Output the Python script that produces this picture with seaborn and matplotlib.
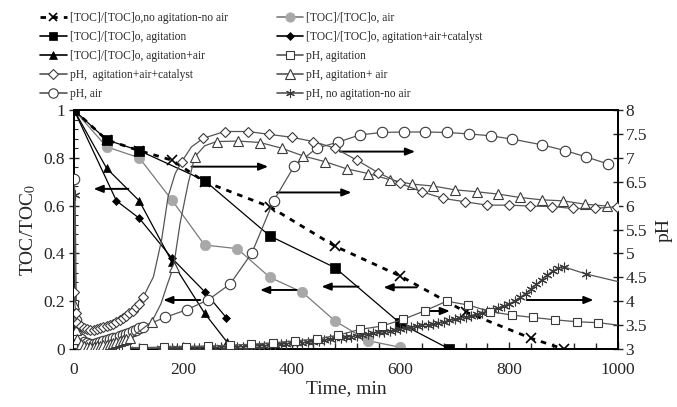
import matplotlib
matplotlib.use("Agg")
import matplotlib.pyplot as plt
from matplotlib.lines import Line2D
from matplotlib.ticker import MultipleLocator, FuncFormatter
import numpy as np
import pandas as pd
import seaborn as sns

# ---------------- TOC/TOC0 series (left axis) ----------------
toc_noag_t = [0, 60, 120, 180, 240, 360, 480, 600, 720, 840, 900]
toc_noag_v = [1, 0.875, 0.83, 0.79, 0.70, 0.595, 0.43, 0.305, 0.155, 0.045, 0.0]

toc_ag_t = [0, 60, 120, 240, 360, 480, 600, 690]
toc_ag_v = [1, 0.875, 0.83, 0.705, 0.473, 0.34, 0.107, 0.0]

toc_air_t = [0, 60, 120, 180, 240, 300, 360, 420, 480, 540, 600]
toc_air_v = [1, 0.846, 0.80, 0.623, 0.435, 0.42, 0.30, 0.237, 0.117, 0.035, 0.007]

toc_cat_t = [0, 78, 120, 180, 240, 280]
toc_cat_v = [1, 0.62, 0.547, 0.38, 0.24, 0.131]

toc_agair_t = [0, 60, 120, 180, 240, 281]
toc_agair_v = [1, 0.756, 0.62, 0.365, 0.15, 0.03]

# ---------------- pH series (right axis) ----------------
# points drawn with a marker
ph_cat_t = [0, 3, 6, 12, 18, 24, 30, 36, 42, 48, 54, 60, 66, 72, 78, 84, 90, 96, 102, 108, 114, 120, 127,
            198, 238, 277, 320, 359, 400, 440, 480, 520, 559, 599, 639, 679, 719, 759, 800, 838, 878, 918, 958, 998]
ph_cat_v = [4.2, 3.75, 3.55, 3.48, 3.44, 3.41, 3.40, 3.40, 3.41, 3.43, 3.45, 3.48, 3.50, 3.53, 3.57, 3.61, 3.65,
            3.70, 3.75, 3.80, 3.87, 3.95, 4.08,
            6.92, 7.41, 7.55, 7.55, 7.49, 7.43, 7.34, 7.20, 6.95, 6.69, 6.47, 6.29, 6.15, 6.08, 6.01, 6.01, 5.99,
            5.98, 5.94, 5.94, 5.98]
# readings of the curve between markers
ph_cat_curve_t = [146, 161, 173, 186, 216]
ph_cat_curve_v = [4.51, 5.28, 6.19, 6.67, 7.23]

ph_air_t = [0, 3, 6, 12, 18, 24, 30, 36, 42, 48, 54, 60, 66, 72, 78, 84, 90, 96, 102, 108, 114, 120, 127,
            167, 207, 247, 287, 327, 367, 405, 446, 486, 526, 566, 606, 646, 686, 726, 766, 806, 861, 903, 941, 982]
ph_air_v = [6.55, 3.6, 3.3, 3.2, 3.15, 3.12, 3.11, 3.11, 3.12, 3.14, 3.16, 3.18, 3.20, 3.22, 3.24, 3.27, 3.29,
            3.31, 3.34, 3.37, 3.40, 3.43, 3.47,
            3.66, 3.82, 4.03, 4.36, 5.01, 6.10, 6.83, 7.20, 7.33, 7.48, 7.53, 7.54, 7.54, 7.53, 7.50, 7.46, 7.39,
            7.27, 7.15, 7.02, 6.87]
ph_air_curve_t = []
ph_air_curve_v = []

ph_agair_t = [0, 3, 6, 12, 18, 24, 30, 36, 42, 48, 54, 60, 66, 72, 78, 84, 90, 96, 103,
              143, 183, 222, 262, 302, 342, 382, 421, 461, 501, 541, 581, 621, 660, 700, 740, 780, 820, 860,
              899, 939, 979]
ph_agair_v = [3.95, 3.4, 3.2, 3.1, 3.07, 3.05, 3.05, 3.05, 3.06, 3.07, 3.08, 3.09, 3.10, 3.12, 3.14, 3.16,
              3.18, 3.20, 3.22,
              3.57, 4.72, 7.02, 7.34, 7.35, 7.32, 7.20, 7.04, 6.92, 6.77, 6.67, 6.54, 6.45, 6.41, 6.33, 6.29,
              6.24, 6.17, 6.12, 6.10, 6.03, 5.99]
ph_agair_curve_t = [160, 170, 195, 210, 240]
ph_agair_curve_v = [3.95, 4.30, 5.63, 6.47, 7.25]

ph_ag_t = [0, 3, 6, 12, 18, 24, 30, 36, 42, 48, 54, 60, 66, 72, 78, 84, 90, 96, 126,
           166, 206, 246, 286, 326, 366, 406, 446, 486, 526, 566, 605, 645, 685, 725, 765, 805, 844, 885, 924, 964]
ph_ag_v = [3.95, 3.3, 3.1, 3.05, 3.03, 3.02, 3.02, 3.02, 3.02, 3.02, 3.02, 3.02, 3.02, 3.03, 3.03, 3.03, 3.03,
           3.03, 3.03,
           3.04, 3.05, 3.06, 3.08, 3.10, 3.13, 3.17, 3.21, 3.29, 3.41, 3.48, 3.62, 3.80, 4.00, 3.92, 3.78, 3.71,
           3.66, 3.61, 3.57, 3.55]
ph_ag_curve_t = [1000]
ph_ag_curve_v = [3.50]

ph_noag_t = [0, 2, 5, 10, 20, 30, 40, 50, 60, 70, 80, 90, 100,
             160, 170, 180, 190, 200, 210, 220, 230, 240, 250, 260, 270, 280, 290, 300, 310, 320, 330, 340,
             350, 360, 370, 380, 390, 400, 410, 420, 430, 440, 450, 460, 470, 480, 490, 500, 510, 520, 530,
             540, 550, 560, 570, 580, 590, 600, 610, 620, 630, 640, 650, 660, 670, 680, 690, 700, 710, 720,
             730, 740, 750, 760, 770, 780, 790, 800, 810, 820, 830, 840, 850, 860, 870, 880, 890, 900, 941]
ph_noag_v = [6.55, 6.22, 3.2, 3.02, 3.01, 3.0, 3.0, 3.0, 3.0, 3.0, 3.0, 3.0, 3.0,
             3.02, 3.02, 3.02, 3.02, 3.02, 3.02, 3.03, 3.03, 3.03, 3.03, 3.03, 3.04, 3.04, 3.04, 3.04, 3.05,
             3.05, 3.06, 3.07, 3.07, 3.08, 3.09, 3.10, 3.11, 3.12, 3.13, 3.13, 3.14, 3.15, 3.16, 3.18, 3.20,
             3.22, 3.23, 3.25, 3.26, 3.28, 3.30, 3.31, 3.33, 3.35, 3.36, 3.38, 3.40, 3.42, 3.44, 3.45, 3.48,
             3.50, 3.51, 3.53, 3.54, 3.57, 3.60, 3.62, 3.65, 3.67, 3.70, 3.73, 3.76, 3.79, 3.82, 3.86, 3.90,
             3.95, 4.00, 4.08, 4.16, 4.25, 4.35, 4.45, 4.55, 4.63, 4.69, 4.72, 4.57]
ph_noag_curve_t = [1000]
ph_noag_curve_v = [4.41]

# arrows pointing to the axis each curve belongs to (tail time, head time, level on TOC axis)
arrow_tail_t = [100, 232, 409, 523, 630, 216, 373, 489, 645, 832]
arrow_head_t = [36, 164, 342, 455, 569, 357, 510, 627, 691, 955]
arrow_level = [0.67, 0.205, 0.247, 0.261, 0.258, 0.763, 0.655, 0.826, 0.159, 0.205]

labels = {
    "toc_noag": "[TOC]/[TOC]o,no agitation-no air",
    "toc_air": "[TOC]/[TOC]o, air",
    "toc_ag": "[TOC]/[TOC]o, agitation",
    "toc_cat": "[TOC]/[TOC]o, agitation+air+catalyst",
    "toc_agair": "[TOC]/[TOC]o, agitation+air",
    "ph_ag": "pH, agitation",
    "ph_cat": "pH,  agitation+air+catalyst",
    "ph_agair": "pH, agitation+ air",
    "ph_air": "pH, air",
    "ph_noag": "pH, no agitation-no air",
}

# ---------------- style ----------------
sns.set_style("white")
plt.rcParams["font.family"] = ["Liberation Serif", "DejaVu Serif"]
plt.rcParams["mathtext.fontset"] = "stix"

fig = plt.figure(figsize=(6.77, 4.07), dpi=100)
ax = fig.add_axes([74 / 677, 1 - 349 / 407, (618 - 74) / 677, (349 - 110) / 407])
ax2 = ax.twinx()

PH_COL = "#3a3a3a"
PH_LINE = "#555555"
GRAY_MK = "#a8a8a8"
GRAY_LN = "#7a7a7a"

styles = {
    "toc_noag": dict(color="black", lw=2.0, ls=(0, (2.0, 2.2)), marker="x", ms=7, mfc="black", mec="black", mew=1.2),
    "toc_ag": dict(color="black", lw=0.9, ls="-", marker="s", ms=6.5, mfc="black", mec="black", mew=0.5),
    "toc_air": dict(color=GRAY_LN, lw=0.9, ls="-", marker="o", ms=7.5, mfc=GRAY_MK, mec=GRAY_MK, mew=0.5),
    "toc_cat": dict(color="black", lw=0.9, ls="-", marker="D", ms=4.5, mfc="black", mec="black", mew=0.5),
    "toc_agair": dict(color="black", lw=0.9, ls="-", marker="^", ms=6, mfc="black", mec="black", mew=0.5),
    "ph_ag": dict(color=PH_LINE, lw=0.9, ls="-", marker="s", ms=6, mfc="white", mec=PH_COL, mew=0.8),
    "ph_cat": dict(color=PH_LINE, lw=0.9, ls="-", marker="D", ms=5.5, mfc="white", mec=PH_COL, mew=0.8),
    "ph_agair": dict(color=PH_LINE, lw=0.9, ls="-", marker="^", ms=7.5, mfc="white", mec=PH_COL, mew=0.8),
    "ph_air": dict(color=PH_LINE, lw=0.9, ls="-", marker="o", ms=7.5, mfc="white", mec=PH_COL, mew=0.8),
    "ph_noag": dict(color=PH_LINE, lw=0.9, ls="-", marker=(6, 2, 0), ms=7, mfc=PH_COL, mec=PH_COL, mew=0.8),
}


def draw(target, key, t, v, curve_t=(), curve_v=(), z=3):
    st = styles[key]
    df = pd.DataFrame({
        "t": list(t) + list(curve_t),
        "v": list(v) + list(curve_v),
        "m": [True] * len(t) + [False] * len(curve_t),
    }).sort_values("t").reset_index(drop=True)
    idx = [int(i) for i in df.index[df["m"]]]
    sns.lineplot(data=df, x="t", y="v", ax=target, estimator=None, sort=False, legend=False,
                 color=st["color"], linewidth=st["lw"], linestyle=st["ls"],
                 marker=st["marker"], markersize=st["ms"], markerfacecolor=st["mfc"],
                 markeredgecolor=st["mec"], markeredgewidth=st["mew"], markevery=idx, zorder=z)


# TOC curves
draw(ax, "toc_air", toc_air_t, toc_air_v)
draw(ax, "toc_agair", toc_agair_t, toc_agair_v)
draw(ax, "toc_cat", toc_cat_t, toc_cat_v)
draw(ax, "toc_ag", toc_ag_t, toc_ag_v)
draw(ax, "toc_noag", toc_noag_t, toc_noag_v)

# pH curves
draw(ax2, "ph_noag", ph_noag_t, ph_noag_v, ph_noag_curve_t, ph_noag_curve_v)
draw(ax2, "ph_ag", ph_ag_t, ph_ag_v, ph_ag_curve_t, ph_ag_curve_v)
draw(ax2, "ph_air", ph_air_t, ph_air_v, ph_air_curve_t, ph_air_curve_v)
draw(ax2, "ph_agair", ph_agair_t, ph_agair_v, ph_agair_curve_t, ph_agair_curve_v)
draw(ax2, "ph_cat", ph_cat_t, ph_cat_v, ph_cat_curve_t, ph_cat_curve_v)

# arrows
for x0, x1, y in zip(arrow_tail_t, arrow_head_t, arrow_level):
    ax.annotate("", xy=(x1, y), xytext=(x0, y),
                arrowprops=dict(arrowstyle="-|>,head_length=0.55,head_width=0.22",
                                color="black", lw=1.4, shrinkA=0, shrinkB=0), zorder=6)

# axes
ax.set_xlim(0, 1000)
ax.set_ylim(0, 1)
ax2.set_ylim(3, 8)
fmt = FuncFormatter(lambda val, pos: "%g" % round(val, 3))
ax.xaxis.set_major_locator(MultipleLocator(200))
ax.xaxis.set_minor_locator(MultipleLocator(40))
ax.yaxis.set_major_locator(MultipleLocator(0.2))
ax.yaxis.set_minor_locator(MultipleLocator(0.04))
ax.yaxis.set_major_formatter(fmt)
ax2.yaxis.set_major_locator(MultipleLocator(0.5))
ax2.yaxis.set_major_formatter(fmt)

ax.tick_params(axis="x", which="major", direction="in", length=5, width=1, labelsize=12.5, pad=9)
ax.tick_params(axis="x", which="minor", direction="in", length=4, width=1)
ax.tick_params(axis="y", which="major", direction="inout", length=7, width=1, labelsize=12.5, pad=3)
ax.tick_params(axis="y", which="minor", direction="in", length=3, width=0.8)
ax2.tick_params(axis="y", which="major", direction="inout", length=7, width=1, labelsize=12.5, pad=2)
ax.tick_params(left=True, bottom=True, which="both")
ax2.tick_params(right=True)

for a in (ax, ax2):
    for s in a.spines.values():
        s.set_linewidth(1.3)
        s.set_color("black")

ax.set_xlabel("Time, min", fontsize=14, labelpad=2)
ax.set_ylabel("TOC/TOC$_{\\mathrm{0}}$", fontsize=14, labelpad=4)
ax2.set_ylabel("pH", fontsize=14, rotation=90, labelpad=6)

# legend
order = ["toc_noag", "toc_ag", "toc_agair", "ph_cat", "ph_air",
         "toc_air", "toc_cat", "ph_ag", "ph_agair", "ph_noag"]
handles = []
for k in order:
    st = styles[k]
    handles.append(Line2D([0], [0], color=st["color"], lw=1.2 if st["lw"] < 1.5 else st["lw"],
                          ls=st["ls"], marker=st["marker"], markersize=st["ms"] * 0.9,
                          markerfacecolor=st["mfc"], markeredgecolor=st["mec"],
                          markeredgewidth=st["mew"]))
fig.legend(handles, [labels[k] for k in order], loc="upper left", bbox_to_anchor=(40 / 677, 1 - 12 / 407),
           ncol=2, frameon=False, fontsize=8.3, handlelength=2.3, handletextpad=0.3,
           columnspacing=4.2, labelspacing=0.6, borderpad=0, borderaxespad=0)

fig.savefig("out.png", dpi=100)
